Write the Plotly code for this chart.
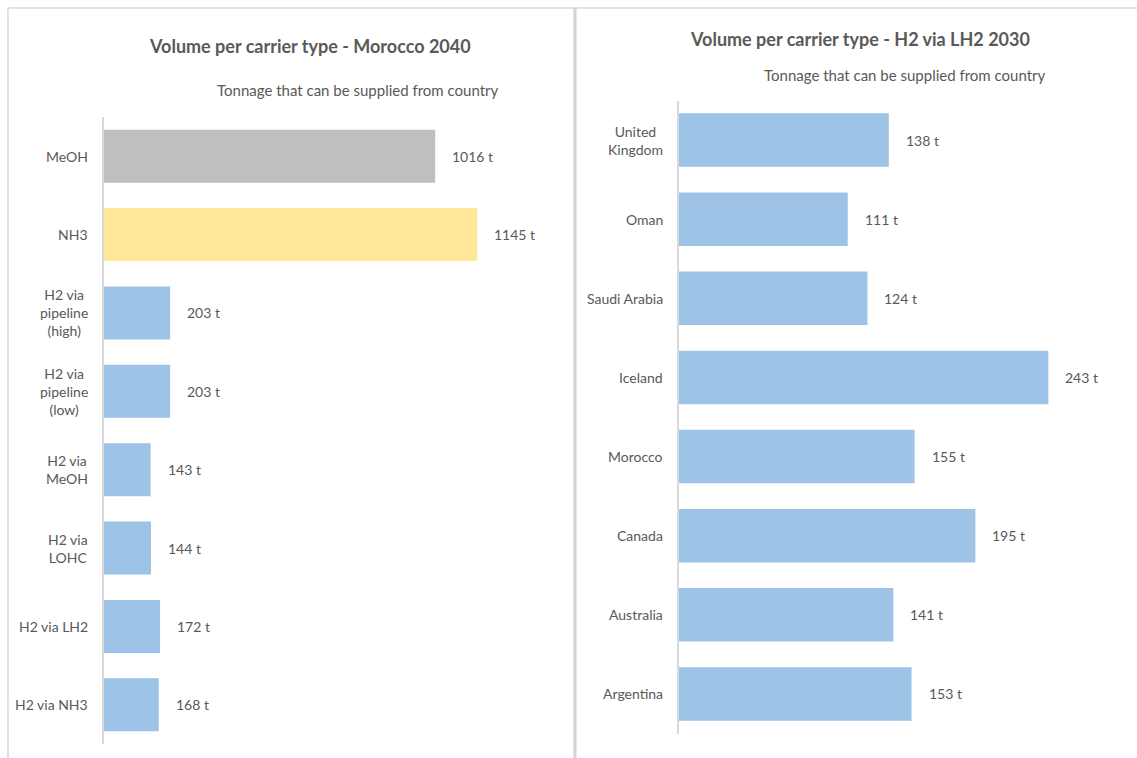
import plotly.graph_objects as go

# Left chart: Morocco 2040, volume by carrier
carriers = ["MeOH", "NH3", "H2 via<br>pipeline<br>(high)", "H2 via<br>pipeline<br>(low)",
            "H2 via<br>MeOH", "H2 via<br>LOHC", "H2 via LH2", "H2 via NH3"]
carrier_tonnes = [1016, 1145, 203, 203, 143, 144, 172, 168]
carrier_colors = ["#BFBFBF", "#FFE699", "#9DC3E6", "#9DC3E6",
                  "#9DC3E6", "#9DC3E6", "#9DC3E6", "#9DC3E6"]

# Right chart: H2 via LH2 2030, volume by country
countries = ["United<br>Kingdom", "Oman", "Saudi Arabia", "Iceland",
             "Morocco", "Canada", "Australia", "Argentina"]
country_tonnes = [138, 111, 124, 243, 155, 195, 141, 153]

left_title = "Volume per carrier type - Morocco 2040"
right_title = "Volume per carrier type - H2 via LH2 2030"
subtitle = "Tonnage that can be supplied from country"

W, H = 1137, 758
FONT = "Lato, Carlito, Calibri, sans-serif"
TXT = "#595959"
BLUE = "#9DC3E6"
LABEL_SIZE = 14


def px(x):
    return x / W


def py(y):
    return 1 - y / H


fig = go.Figure()
fig.add_trace(go.Bar(x=carrier_tonnes, y=list(range(len(carriers))), orientation="h",
                     marker=dict(color=carrier_colors, line=dict(width=0)),
                     xaxis="x", yaxis="y", hoverinfo="skip"))
fig.add_trace(go.Bar(x=country_tonnes, y=list(range(len(countries))), orientation="h",
                     marker=dict(color=BLUE, line=dict(width=0)),
                     xaxis="x2", yaxis="y2", hoverinfo="skip"))

annotations = []
# category labels (right-anchored box, centred lines) and value labels
for i, (lab, v) in enumerate(zip(carriers, carrier_tonnes)):
    annotations.append(dict(x=0, y=i, xref="x", yref="y", text=lab, showarrow=False,
                            xanchor="right", align="center", xshift=-14,
                            font=dict(size=LABEL_SIZE, color=TXT, family=FONT)))
    annotations.append(dict(x=v, y=i, xref="x", yref="y", text=f"{v} t", showarrow=False,
                            xanchor="left", xshift=15,
                            font=dict(size=LABEL_SIZE, color=TXT, family=FONT)))
for i, (lab, v) in enumerate(zip(countries, country_tonnes)):
    annotations.append(dict(x=0, y=i, xref="x2", yref="y2", text=lab, showarrow=False,
                            xanchor="right", align="center", xshift=-14,
                            font=dict(size=LABEL_SIZE, color=TXT, family=FONT)))
    annotations.append(dict(x=v, y=i, xref="x2", yref="y2", text=f"{v} t", showarrow=False,
                            xanchor="left", xshift=15,
                            font=dict(size=LABEL_SIZE, color=TXT, family=FONT)))

# titles and subtitles
annotations += [
    dict(x=px(310), y=py(46), xref="paper", yref="paper", text=f"<b>{left_title}</b>",
         showarrow=False, xanchor="center", yanchor="middle",
         font=dict(size=18, color=TXT, family=FONT)),
    dict(x=px(358), y=py(90), xref="paper", yref="paper", text=subtitle,
         showarrow=False, xanchor="center", yanchor="middle",
         font=dict(size=15, color=TXT, family=FONT)),
    dict(x=px(860), y=py(39), xref="paper", yref="paper", text=f"<b>{right_title}</b>",
         showarrow=False, xanchor="center", yanchor="middle",
         font=dict(size=18, color=TXT, family=FONT)),
    dict(x=px(905), y=py(75), xref="paper", yref="paper", text=subtitle,
         showarrow=False, xanchor="center", yanchor="middle",
         font=dict(size=15, color=TXT, family=FONT)),
]

# panel frames
BORDER = "#D9D9D9"
shapes = [
    dict(type="line", xref="paper", yref="paper", x0=px(8), x1=1, y0=py(8), y1=py(8),
         line=dict(color=BORDER, width=1.5)),
    dict(type="line", xref="paper", yref="paper", x0=px(8), x1=px(8), y0=py(8), y1=0,
         line=dict(color=BORDER, width=1.5)),
    dict(type="line", xref="paper", yref="paper", x0=px(575), x1=px(575), y0=py(8), y1=0,
         line=dict(color="#D4D4D4", width=3)),
]

# left plot area 104..560 px, scale ~0.326 px per tonne
left_l, left_r = 104, 560
right_l, right_r = 679, 1130
left_max = (left_r - left_l) / 0.326
right_max = (right_r - right_l) / 1.52

yaxis_common = dict(showgrid=False, zeroline=False, showticklabels=False, ticks="",
                    showline=True, linecolor=BORDER, linewidth=1.5, autorange=False)

fig.update_layout(
    width=W, height=H, margin=dict(l=0, r=0, t=0, b=0),
    paper_bgcolor="white", plot_bgcolor="white",
    showlegend=False, bargap=0.325,
    xaxis=dict(domain=[px(left_l), px(left_r)], range=[0, left_max], visible=False,
               anchor="y"),
    yaxis=dict(domain=[py(744), py(117)], range=[7.5, -0.5], anchor="x",
               **yaxis_common),
    xaxis2=dict(domain=[px(right_l), px(right_r)], range=[0, right_max], visible=False,
                anchor="y2"),
    yaxis2=dict(domain=[py(733.5), py(100.5)], range=[7.5, -0.5], anchor="x2",
                **yaxis_common),
    annotations=annotations, shapes=shapes,
)

fig.write_html("out.html")
